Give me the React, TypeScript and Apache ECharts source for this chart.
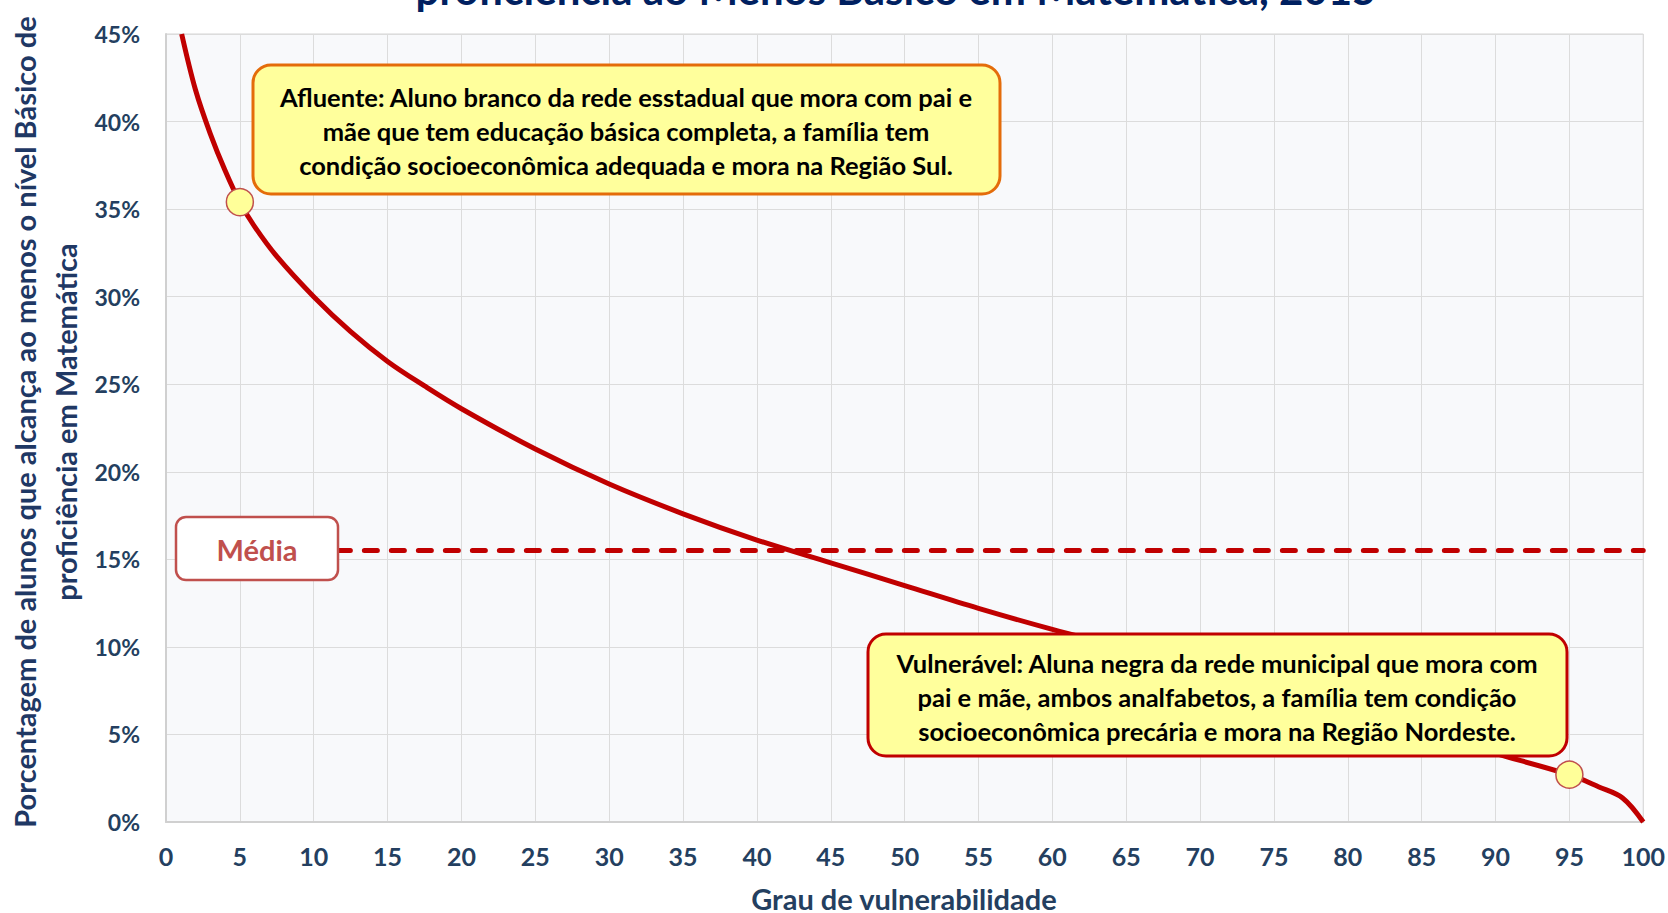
import React, { useEffect, useRef } from "react";
import * as echarts from "echarts";

// Curve: grau de vulnerabilidade (x) vs % de alunos com nível ao menos Básico (y)
const vulnerability = [1.06, 2, 3, 4, 5, 6, 7.5, 10, 12.5, 15, 17.5, 20, 25, 30, 35, 40, 45, 50, 55, 60, 65, 70, 75, 80, 85, 90, 95, 97, 98.6, 100];
const proficiency = [45, 41.8, 39.3, 37.2, 35.4, 34.0, 32.3, 30.0, 28.0, 26.3, 24.9, 23.6, 21.3, 19.3, 17.6, 16.1, 14.8, 13.5, 12.2, 11.0, 9.9, 8.7, 7.5, 6.3, 5.1, 3.9, 2.7, 2.0, 1.37, 0];

// Highlighted profiles
const profileX = [5, 95];
const profileY = [35.4, 2.7];

// Mean line
const meanValue = 15.5;
const meanRange = [11.6, 100];

const xTicks = { min: 0, max: 100, interval: 5 };
const yTicks = { min: 0, max: 45, interval: 5 };

const titleText = "proficiência ao Menos Básico em Matemática, 2015";
const yAxisTitle = "Porcentagem de alunos que alcança ao menos o nível Básico de\nproficiência em Matemática";
const xAxisTitle = "Grau de vulnerabilidade";
const afluenteText = "Afluente: Aluno branco da rede esstadual que mora com pai e\nmãe que tem educação básica completa, a família tem\ncondição socioeconômica adequada e mora na Região Sul.";
const vulneravelText = "Vulnerável: Aluna negra da rede municipal que mora com\npai e mãe, ambos analfabetos, a família tem condição\nsocioeconômica precária e mora na Região Nordeste.";
const meanLabel = "Média";

const FONT = "Lato, 'Open Sans', sans-serif";
const NAVY = "#243f60";

export default function App() {
  const ref = useRef<HTMLDivElement>(null);
  useEffect(() => {
    if (!ref.current) return;
    const chart = echarts.init(ref.current, undefined, { renderer: "svg" });
    const curve = vulnerability.map((x, i) => [x, proficiency[i]]);
    const markers = profileX.map((x, i) => [x, profileY[i]]);
    const mean = meanRange.map((x) => [x, meanValue]);
    chart.setOption({
      animation: false,
      backgroundColor: "#ffffff",
      grid: {
        left: 166,
        right: 23,
        top: 34,
        bottom: 91,
        show: true,
        backgroundColor: "#f8f9fb",
        borderColor: "#d4d4d4",
        borderWidth: 1,
      },
      xAxis: {
        type: "value",
        min: xTicks.min,
        max: xTicks.max,
        interval: xTicks.interval,
        axisLine: { show: true, lineStyle: { color: "#d0d0d0", width: 2 } },
        axisTick: { show: false },
        splitLine: { show: true, lineStyle: { color: "#dcdcdc", width: 1 } },
        axisLabel: { color: NAVY, fontFamily: FONT, fontWeight: "bold", fontSize: 25, margin: 21 },
      },
      yAxis: {
        type: "value",
        min: yTicks.min,
        max: yTicks.max,
        interval: yTicks.interval,
        axisLine: { show: true, lineStyle: { color: "#d0d0d0", width: 2 } },
        axisTick: { show: false },
        splitLine: { show: true, lineStyle: { color: "#dcdcdc", width: 1 } },
        axisLabel: { color: NAVY, fontFamily: FONT, fontWeight: "bold", fontSize: 23, margin: 26, formatter: "{value}%" },
      },
      series: [
        {
          type: "line",
          data: curve,
          smooth: 0.35,
          symbol: "none",
          lineStyle: { color: "#c00000", width: 5 },
          z: 3,
        },
        {
          type: "line",
          data: mean,
          symbol: "none",
          lineStyle: { color: "#c00000", width: 5, type: [13, 14], cap: "round" },
          z: 3,
        },
        {
          type: "scatter",
          data: markers,
          symbol: "circle",
          symbolSize: 27,
          itemStyle: { color: "#ffff99", borderColor: "#c0504d", borderWidth: 1.5, opacity: 1 },
          z: 20,
        },
      ],
      graphic: [
        {
          type: "text",
          z: 100,
          style: {
            text: titleText,
            x: 896,
            y: 10,
            align: "center",
            verticalAlign: "bottom",
            fill: "#002060",
            fontFamily: FONT,
            fontWeight: "bold",
            fontSize: 42,
          },
        },
        {
          type: "text",
          z: 100,
          x: 45,
          y: 422,
          rotation: Math.PI / 2,
          style: {
            text: yAxisTitle,
            x: 0,
            y: 0,
            align: "center",
            verticalAlign: "middle",
            fill: "#1f3864",
            fontFamily: FONT,
            fontWeight: "bold",
            fontSize: 29,
            lineHeight: 41,
          },
        },
        {
          type: "text",
          z: 100,
          style: {
            text: xAxisTitle,
            x: 904,
            y: 898,
            align: "center",
            verticalAlign: "middle",
            fill: NAVY,
            fontFamily: FONT,
            fontWeight: "bold",
            fontSize: 29,
          },
        },
        {
          type: "group",
          z: 100,
          children: [
            {
              type: "rect",
              z: 100,
              shape: { x: 253, y: 65, width: 747, height: 129, r: 18 },
              style: { fill: "#ffff9c", stroke: "#e46c0a", lineWidth: 3 },
            },
            {
              type: "text",
              z: 101,
              style: {
                text: afluenteText,
                x: 626,
                y: 131,
                align: "center",
                verticalAlign: "middle",
                fill: "#000000",
                fontFamily: FONT,
                fontWeight: "bold",
                fontSize: 25.5,
                lineHeight: 34,
              },
            },
          ],
        },
        {
          type: "group",
          z: 100,
          children: [
            {
              type: "rect",
              z: 100,
              shape: { x: 868, y: 634, width: 699, height: 122, r: 18 },
              style: { fill: "#ffff9c", stroke: "#c00000", lineWidth: 3 },
            },
            {
              type: "text",
              z: 101,
              style: {
                text: vulneravelText,
                x: 1217,
                y: 697,
                align: "center",
                verticalAlign: "middle",
                fill: "#000000",
                fontFamily: FONT,
                fontWeight: "bold",
                fontSize: 25.5,
                lineHeight: 34,
              },
            },
          ],
        },
        {
          type: "group",
          z: 100,
          children: [
            {
              type: "rect",
              z: 100,
              shape: { x: 176, y: 517, width: 162, height: 63, r: 10 },
              style: { fill: "#ffffff", stroke: "#c0504d", lineWidth: 2.5 },
            },
            {
              type: "text",
              z: 101,
              style: {
                text: meanLabel,
                x: 257,
                y: 549,
                align: "center",
                verticalAlign: "middle",
                fill: "#c0504d",
                fontFamily: FONT,
                fontWeight: "bold",
                fontSize: 29,
              },
            },
          ],
        },
      ],
    });
    return () => chart.dispose();
  }, []);
  return (
    <div
      ref={ref}
      style={{ position: "absolute", left: 0, top: 0, width: 1668, height: 913 }}
    />
  );
}
